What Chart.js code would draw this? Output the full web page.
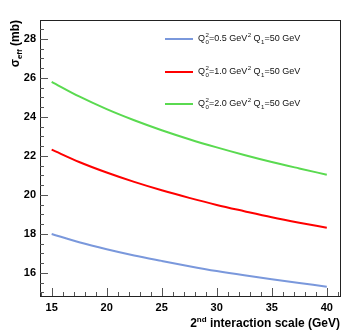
<!DOCTYPE html>
<html><head><meta charset="utf-8">
<script src="https://cdn.jsdelivr.net/npm/chart.js@4"></script>
<style>html,body{margin:0;padding:0;background:#fff}#w{width:355px;height:333px}</style>
</head><body><div id="w"><canvas id="c" width="355" height="333"></canvas></div>
<script>
const scaleGeV = [15,17.5,20,22.5,25,27.5,30,32.5,35,37.5,40];
const sigmaQ05 = [18.0,17.58,17.22,16.9,16.62,16.35,16.1,15.88,15.68,15.49,15.3];
const sigmaQ10 = [22.32,21.69,21.15,20.67,20.24,19.85,19.49,19.17,18.86,18.58,18.32];
const sigmaQ20 = [25.8,25.05,24.4,23.83,23.32,22.86,22.44,22.05,21.69,21.36,21.04];
const seriesLabels = ["Q_{0}^{2}=0.5 GeV^{2} Q_{1}=50 GeV","Q_{0}^{2}=1.0 GeV^{2} Q_{1}=50 GeV","Q_{0}^{2}=2.0 GeV^{2} Q_{1}=50 GeV"];
const yTicks = [16,18,20,22,24,26,28];
const xTicks = [15,20,25,30,35,40];
const colors = ["rgb(122,152,220)","rgb(255,0,0)","rgb(90,218,80)"];

function pts(ys){return scaleGeV.map((x,i)=>({x:x,y:ys[i]}));}

// simple ROOT-like latex renderer: _{..} subscript, ^{..} superscript
function drawLatex(ctx,str,x,y,size){
  const toks=[];let i=0;
  while(i<str.length){
    if((str[i]==='_'||str[i]==='^')&&str[i+1]==='{'){
      const j=str.indexOf('}',i);toks.push({t:str.slice(i+2,j),k:str[i]});i=j+1;
    } else {let j=i;while(j<str.length&&!((str[j]==='_'||str[j]==='^')&&str[j+1]==='{'))j++;toks.push({t:str.slice(i,j),k:''});i=j;}
  }
  let cx=x;let prevScript=null;
  ctx.textBaseline='middle';ctx.textAlign='left';
  toks.forEach((tk)=>{
    if(tk.k===''){
      ctx.font=size+'px "Liberation Sans", Arial, sans-serif';
      ctx.fillText(tk.t,cx,y);cx+=ctx.measureText(tk.t).width;prevScript=null;
    } else {
      const s=size*0.68;ctx.font=s+'px "Liberation Sans", Arial, sans-serif';
      const w=ctx.measureText(tk.t).width;
      let px=cx;
      if(prevScript){px=prevScript.x;}
      const dy= tk.k==='^' ? -size*0.38 : size*0.33;
      ctx.fillText(tk.t,px+0.5,y+dy);
      if(prevScript){cx=Math.max(prevScript.x+prevScript.w,px+w)+0.5;prevScript=null;}
      else {prevScript={x:cx,w:w};cx=cx+w+0.5;}
    }
  });
}

const framePlugin={
  id:'frame',
  afterDraw(chart){
    const ctx=chart.ctx,a=chart.chartArea,xs=chart.scales.x,ys=chart.scales.y;
    ctx.save();
    ctx.strokeStyle='#222';ctx.lineWidth=1;
    ctx.strokeRect(Math.round(a.left)+0.5,Math.round(a.top)+0.5,Math.round(a.right-a.left),Math.round(a.bottom-a.top));
    ctx.strokeStyle='#555';
    for(let v=15;v<=28.9;v+=0.5){
      const p=Math.round(ys.getPixelForValue(v))+0.5;const major=(v%2===0);
      const L=major?8:4;
      ctx.beginPath();ctx.moveTo(a.left,p);ctx.lineTo(a.left+L,p);ctx.stroke();
    }
    for(let v=14;v<=41;v+=1){
      const p=Math.round(xs.getPixelForValue(v))+0.5;const major=(v%5===0);
      const L=major?8:4;
      ctx.beginPath();ctx.moveTo(p,a.bottom);ctx.lineTo(p,a.bottom-L);ctx.stroke();
    }
    ctx.fillStyle='#000';
    ctx.font='bold 12px "Liberation Sans", Arial, sans-serif';
    ctx.textAlign='right';ctx.textBaseline='alphabetic';
    const t1=' interaction scale (GeV)';
    const w1=ctx.measureText(t1).width;
    const xr=a.right;const yb=327;
    ctx.fillText(t1,xr,yb);
    ctx.font='bold 8px "Liberation Sans", Arial, sans-serif';
    const wn=ctx.measureText('nd').width;
    ctx.fillText('nd',xr-w1,yb-5);
    ctx.font='bold 12px "Liberation Sans", Arial, sans-serif';
    ctx.fillText('2',xr-w1-wn,yb);
    ctx.save();
    ctx.translate(19,a.top);ctx.rotate(-Math.PI/2);
    ctx.textAlign='right';ctx.textBaseline='alphabetic';
    ctx.font='bold 12px "Liberation Sans", Arial, sans-serif';
    const t2=' (mb)';const w2=ctx.measureText(t2).width;
    ctx.fillText(t2,0,0);
    ctx.font='bold 8px "Liberation Sans", Arial, sans-serif';
    const we=ctx.measureText('eff').width;
    ctx.fillText('eff',-w2,3);
    ctx.font='bold 12px "Liberation Sans", Arial, sans-serif';
    ctx.fillText('σ',-w2-we,0);
    ctx.restore();
    const rows=[39,72,104];
    chart.data.datasets.forEach((d,i)=>{
      ctx.strokeStyle=d.borderColor;ctx.lineWidth=2;
      ctx.beginPath();ctx.moveTo(165,rows[i]);ctx.lineTo(193,rows[i]);ctx.stroke();
      ctx.fillStyle='#111';
      drawLatex(ctx,d.label,198,rows[i],9);
    });
    ctx.restore();
  }
};

new Chart(document.getElementById('c'),{
  type:'line',
  data:{datasets:[
    {label:seriesLabels[0],data:pts(sigmaQ05),borderColor:colors[0],borderWidth:2,pointRadius:0,cubicInterpolationMode:'monotone',fill:false},
    {label:seriesLabels[1],data:pts(sigmaQ10),borderColor:colors[1],borderWidth:2,pointRadius:0,cubicInterpolationMode:'monotone',fill:false},
    {label:seriesLabels[2],data:pts(sigmaQ20),borderColor:colors[2],borderWidth:2,pointRadius:0,cubicInterpolationMode:'monotone',fill:false}
  ]},
  options:{
    responsive:false,animation:false,devicePixelRatio:1,
    layout:{padding:{top:20,right:15,left:0,bottom:0}},
    plugins:{legend:{display:false},tooltip:{enabled:false}},
    scales:{
      x:{type:'linear',min:13.94,max:41.2,
        afterBuildTicks(s){s.ticks=xTicks.map(v=>({value:v}));},
        afterFit(s){s.height=37;},
        grid:{display:false,drawTicks:false},border:{display:false},
        ticks:{padding:5,color:'#000',font:{family:'"Liberation Sans", Arial, sans-serif',size:11,weight:'bold'},maxRotation:0,autoSkip:false}},
      y:{type:'linear',min:14.82,max:28.97,
        afterBuildTicks(s){s.ticks=yTicks.map(v=>({value:v}));},
        afterFit(s){s.width=40;},
        grid:{display:false,drawTicks:false},border:{display:false},
        ticks:{padding:4,color:'#000',font:{family:'"Liberation Sans", Arial, sans-serif',size:11,weight:'bold'},autoSkip:false}}
    }
  },
  plugins:[framePlugin]
});
</script></body></html>
